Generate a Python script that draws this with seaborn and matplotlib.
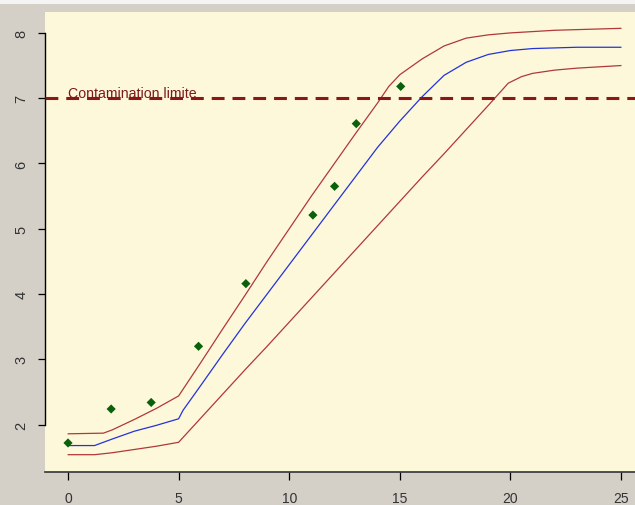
import matplotlib
matplotlib.use("Agg")
import matplotlib.pyplot as plt
import seaborn as sns
import pandas as pd
from matplotlib.patches import Rectangle

# ---- data ----
obs_x = [0, 1.95, 3.76, 5.9, 8.04, 11.07, 12.05, 13.03, 15.04]
obs_y = [1.72, 2.24, 2.34, 3.20, 4.16, 5.21, 5.65, 6.61, 7.18]

mean_x = [0, 1.2, 2, 3, 4, 5, 5.2, 6, 7, 8, 9, 10, 11, 12, 13, 14, 15, 16, 17, 18, 19, 20, 21, 22, 23, 24, 25]
mean_y = [1.68, 1.68, 1.78, 1.90, 1.99, 2.09, 2.22, 2.60, 3.08, 3.55, 4.00, 4.45, 4.90, 5.35, 5.80, 6.25,
          6.65, 7.02, 7.35, 7.55, 7.67, 7.73, 7.76, 7.77, 7.78, 7.78, 7.78]

upper_x = [0, 1.6, 2, 3, 4, 5, 6, 7, 8, 9, 10, 11, 12, 13, 14, 14.5, 15, 16, 17, 18, 19, 20, 22, 25]
upper_y = [1.86, 1.87, 1.92, 2.08, 2.25, 2.44, 2.95, 3.47, 3.98, 4.50, 5.00, 5.50, 5.98, 6.46, 6.93,
           7.18, 7.36, 7.60, 7.80, 7.92, 7.97, 8.00, 8.04, 8.07]

lower_x = [0, 1.2, 2, 3, 4, 5, 6, 7, 8, 9, 10, 11, 12, 13, 14, 15, 16, 17, 18, 19, 19.9, 20.5, 21, 22, 23, 24, 25]
lower_y = [1.54, 1.54, 1.57, 1.62, 1.67, 1.73, 2.10, 2.47, 2.84, 3.20, 3.57, 3.94, 4.31, 4.68, 5.05, 5.42,
           5.79, 6.15, 6.52, 6.89, 7.23, 7.33, 7.38, 7.43, 7.46, 7.48, 7.50]

limit_value = 7
limit_label = "Contamination limite"
x_ticks = [0, 5, 10, 15, 20, 25]
y_ticks = [2, 3, 4, 5, 6, 7, 8]

# ---- styling ----
sns.set_style("ticks")
plt.rcParams["font.family"] = ["Liberation Sans", "DejaVu Sans"]

W, H = 635, 506
fig = plt.figure(figsize=(W / 100, H / 100), dpi=100)
fig.patch.set_facecolor("#D4D0C8")
fig.patches.append(Rectangle((0, 1 - 5 / H), 1, 5 / H, transform=fig.transFigure,
                             facecolor="#F4F4F4", edgecolor="none", zorder=0))

left, right, top, bottom = 45, 635, 13, 473
ax = fig.add_axes([left / W, (H - bottom) / H, (right - left) / W, (bottom - top) / H])
ax.set_facecolor("#FEF8DA")

df_mean = pd.DataFrame({"x": mean_x, "y": mean_y})
df_up = pd.DataFrame({"x": upper_x, "y": upper_y})
df_lo = pd.DataFrame({"x": lower_x, "y": lower_y})
df_obs = pd.DataFrame({"x": obs_x, "y": obs_y})

red = "#B0383A"
sns.lineplot(data=df_up, x="x", y="y", ax=ax, color=red, linewidth=0.9, sort=False)
sns.lineplot(data=df_lo, x="x", y="y", ax=ax, color=red, linewidth=0.9, sort=False)
sns.lineplot(data=df_mean, x="x", y="y", ax=ax, color="#2433D8", linewidth=0.9, sort=False)
sns.scatterplot(data=df_obs, x="x", y="y", ax=ax, color="#0B610B", marker="D", s=22,
                edgecolor="none", zorder=5)

ax.axhline(limit_value, color="#8A1818", linewidth=2.2, dashes=(4.2, 2.6), zorder=3)
ax.text(0, limit_value + 0.015, limit_label, color="#7A1A1A", fontsize=10.2,
        ha="left", va="baseline", zorder=6)

ax.set_xlim(-1.04, 25.63)
ax.set_ylim(1.275, 8.32)
ax.set_xticks(x_ticks)
ax.set_yticks(y_ticks)
ax.set_xlabel("")
ax.set_ylabel("")

for s in ["top", "right"]:
    ax.spines[s].set_visible(False)
ax.spines["left"].set_bounds(2, 8)
ax.spines["left"].set_color("black")
ax.spines["left"].set_linewidth(1.0)
ax.spines["bottom"].set_color("#333333")
ax.spines["bottom"].set_linewidth(1.2)

ax.tick_params(axis="y", direction="out", length=5, width=0.9, color="black",
               labelsize=10.5, labelcolor="#333333", pad=7)
ax.tick_params(axis="x", direction="out", length=5.5, width=0.9, color="black",
               labelsize=10, labelcolor="#333333", pad=8)
for lab in ax.get_yticklabels():
    lab.set_rotation(90)
    lab.set_va("center")

fig.savefig("out.png", dpi=100, facecolor=fig.get_facecolor())
